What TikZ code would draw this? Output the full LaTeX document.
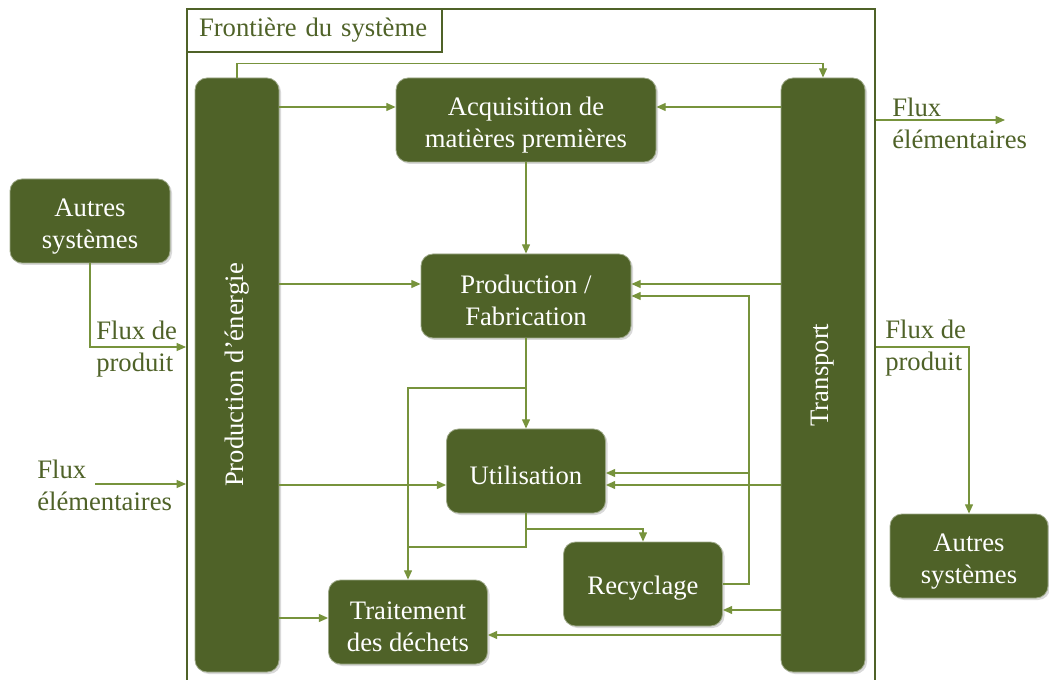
\documentclass[tikz,border=0pt]{standalone}
\usepackage{fontspec}
\setmainfont{Liberation Serif}
\usetikzlibrary{arrows.meta,shadows}
\definecolor{boxgreen}{HTML}{4F6228}
\definecolor{flowgreen}{HTML}{77933C}
\tikzset{
  stage/.style={rounded corners=9pt, fill=boxgreen, draw=boxgreen!55!white,
    line width=.6pt, text=white, align=center, inner sep=2pt,
    minimum height=63pt, font=\fontsize{20}{24}\selectfont,
    execute at begin node={\rule{0pt}{20pt}},
    drop shadow={opacity=.3, shadow xshift=1.5pt, shadow yshift=-1.5pt}},
  twolines/.style={execute at begin node={\rule{0pt}{45pt}}},
  bar/.style={stage, minimum width=63pt, minimum height=445.5pt},
  bartext/.style={rotate=90, text=white, font=\fontsize{20}{24}\selectfont},
  flow/.style={draw=flowgreen, line width=1pt, -{Triangle[length=7pt,width=6pt]}},
  link/.style={draw=flowgreen, line width=1pt},
  flowtext/.style={text=boxgreen, align=left, inner sep=0pt,
    font=\fontsize{20}{24}\selectfont},
}
\begin{document}
\begin{tikzpicture}[x=.75pt,y=-.75pt]
\useasboundingbox (0,0) rectangle (1049,680);
% system boundary
\node[draw=boxgreen, line width=1.5pt, anchor=north west,
  minimum width=516pt, minimum height=519pt] (frontiere) at (186,8) {};
\node[draw=boxgreen, line width=1.5pt, anchor=north west, flowtext,
  inner xsep=9pt, text width=173pt, minimum height=32.25pt] (titre) at (frontiere.north west) {Frontière du système};
% stages
\node[bar] (energie)   at (237,375) {};
\node[bartext]         at (energie) {Production d’énergie};
\node[bar] (transport) at (823,375) {};
\node[bartext]         at (transport) {Transport};
\node[stage, twolines, minimum width=195pt]    (acq)    at (526,120)   {Acquisition de\\matières premières};
\node[stage, twolines, minimum width=157.5pt]  (prod)   at (526,296)   {Production /\\Fabrication};
\node[stage, minimum width=119.25pt]           (util)   at (526,471)   {Utilisation};
\node[stage, minimum width=119.25pt]           (recy)   at (643,584)   {Recyclage};
\node[stage, twolines, minimum width=119.25pt] (traite) at (408,622)   {Traitement\\des déchets};
\node[stage, twolines, minimum width=120pt]    (autresG) at (90,221)   {Autres\\systèmes};
\node[stage, twolines, minimum width=118.5pt]  (autresD) at (969,556)  {Autres\\systèmes};
% flows inside
\draw[flow] (energie.north) -- ++(0,-14) -| (transport.north);
\draw[flow] (energie.east |- 0,107) -- (acq.west |- 0,107);
\draw[flow] (transport.west |- 0,107) -- (acq.east |- 0,107);
\draw[flow] (acq) -- (prod);
\draw[flow] (energie.east |- 0,284) -- (prod.west |- 0,284);
\draw[flow] (transport.west |- 0,284) -- (prod.east |- 0,284);
\draw[flow] (prod) -- (util);
\coordinate (split) at (prod.south |- 0,388);
\draw[flow] (split) -| (traite.north);
\draw[link] (util.south) |- (traite.north |- 0,547);
\draw[flow] (util.south |- 0,529) -| (recy.north);
\draw[flow] (energie.east |- 0,485) -- (util.west |- 0,485);
\draw[flow] (transport.west |- 0,485) -- (util.east |- 0,485);
\coordinate (retour) at (749,584);
\draw[flow] (recy.east) -- (retour) |- (prod.east |- 0,296);
\draw[flow] (retour |- 0,473) -- (util.east |- 0,473);
\draw[flow] (transport.west |- 0,610) -- (recy.east |- 0,610);
\draw[flow] (transport.west |- 0,635) -- (traite.east |- 0,635);
\draw[flow] (energie.east |- 0,618) -- (traite.west |- 0,618);
% flows across the boundary
\draw[flow] (autresG.south) |- (frontiere.west |- 0,347);
\node[flowtext, anchor=west] (produitG) at (96,349) {Flux de\\produit};
\coordinate (entreeG) at (95,484);
\draw[flow] (entreeG) -- (frontiere.west |- entreeG);
\node[flowtext, anchor=west] (elemG) at (37,485) {Flux\\élémentaires};
\coordinate (sortieD) at (1005,120);
\draw[flow] (frontiere.east |- sortieD) -- (sortieD);
\node[flowtext, anchor=west] (elemD) at (892,123) {Flux\\élémentaires};
\draw[flow] (frontiere.east |- 0,347) -| (autresD.north);
\node[flowtext, anchor=west] (produitD) at (885,348) {Flux de\\produit};
\end{tikzpicture}
\end{document}
